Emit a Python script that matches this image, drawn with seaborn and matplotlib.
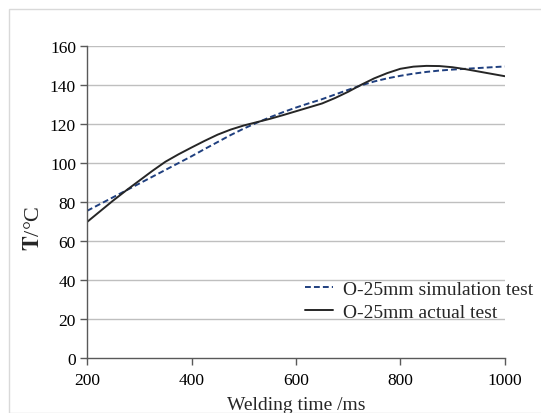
import matplotlib
matplotlib.use("Agg")
import matplotlib.pyplot as plt
import seaborn as sns
import pandas as pd
from matplotlib.patches import Rectangle

time_ms = [200, 225, 250, 275, 300, 325, 350, 375, 400, 425, 450, 475, 500, 525, 550, 575, 600,
           625, 650, 675, 700, 725, 750, 775, 800, 825, 850, 875, 900, 925, 950, 975, 1000]
simulation = [75.5, 79, 82.5, 86, 89.5, 93, 96.5, 100, 103.5, 107.2, 110.8, 114.4, 117.7, 120.7, 123.5, 126.1, 128.5,
              130.7, 132.8, 135.2, 137.6, 139.9, 141.9, 143.5, 144.8, 145.9, 146.8, 147.5, 148, 148.4, 148.8, 149.2, 149.6]
actual = [69.8, 75.3, 80.8, 86, 91, 96, 100.7, 104.5, 108, 111.4, 114.6, 117.2, 119.3, 121, 122.7, 124.6, 126.6,
          128.6, 130.6, 133.4, 136.6, 140.2, 143.5, 146.2, 148.4, 149.5, 149.9, 149.8, 149.2, 148.2, 147, 145.8, 144.6]
labels = ["O-25mm simulation test", "O-25mm actual test"]
x_ticks = [200, 400, 600, 800, 1000]
y_ticks = [0, 20, 40, 60, 80, 100, 120, 140, 160]

sns.set_theme(style="white")
plt.rcParams['font.family'] = ['Liberation Serif', 'DejaVu Serif']
plt.rcParams['mathtext.fontset'] = 'stix'

df = pd.DataFrame({"t": time_ms * 2,
                   "T": simulation + actual,
                   "series": [labels[0]] * len(time_ms) + [labels[1]] * len(time_ms)})

fig = plt.figure(figsize=(5.41, 4.14), dpi=100)
ax = fig.add_axes([0.161, 0.133, 0.772, 0.753])

fig.patches.append(Rectangle((9 / 541, 0), 1.0, 1 - 10 / 414, transform=fig.transFigure,
                             fill=False, edgecolor="#d9d9d9", linewidth=1.0))

for yv in y_ticks[1:]:
    ax.axhline(yv, color="#bfbfbf", linewidth=1.0, zorder=0)

sns.lineplot(data=df, x="t", y="T", hue="series", style="series",
             palette={labels[0]: "#1f3f7f", labels[1]: "#262626"},
             dashes={labels[0]: (3, 1.6), labels[1]: ""},
             linewidth=1.4, ax=ax)

ax.set_xlim(200, 1000)
ax.set_ylim(0, 160)
ax.set_xticks(x_ticks)
ax.set_yticks(y_ticks)
ax.tick_params(axis="both", labelsize=12.5, length=5, width=1, color="#595959",
               direction="out", left=True, bottom=True, labelcolor="black")
ax.tick_params(axis="x", pad=5)
ax.tick_params(axis="y", pad=3)
for s in ["top", "right"]:
    ax.spines[s].set_visible(False)
for s in ["left", "bottom"]:
    ax.spines[s].set_color("#595959")
    ax.spines[s].set_linewidth(1.0)

ax.set_xlabel("Welding time /ms", fontsize=14, labelpad=6)
ax.set_ylabel(r"$\mathbf{T}$/°C", fontsize=16)
ax.yaxis.set_label_coords(-0.103, 0.42)

leg = ax.legend(loc="upper left", bbox_to_anchor=(0.5215, 0.25), frameon=False,
                borderaxespad=0, borderpad=0,
                fontsize=14, handlelength=1.45, handletextpad=0.5, labelspacing=0.3)

fig.savefig("out.png", dpi=100)
